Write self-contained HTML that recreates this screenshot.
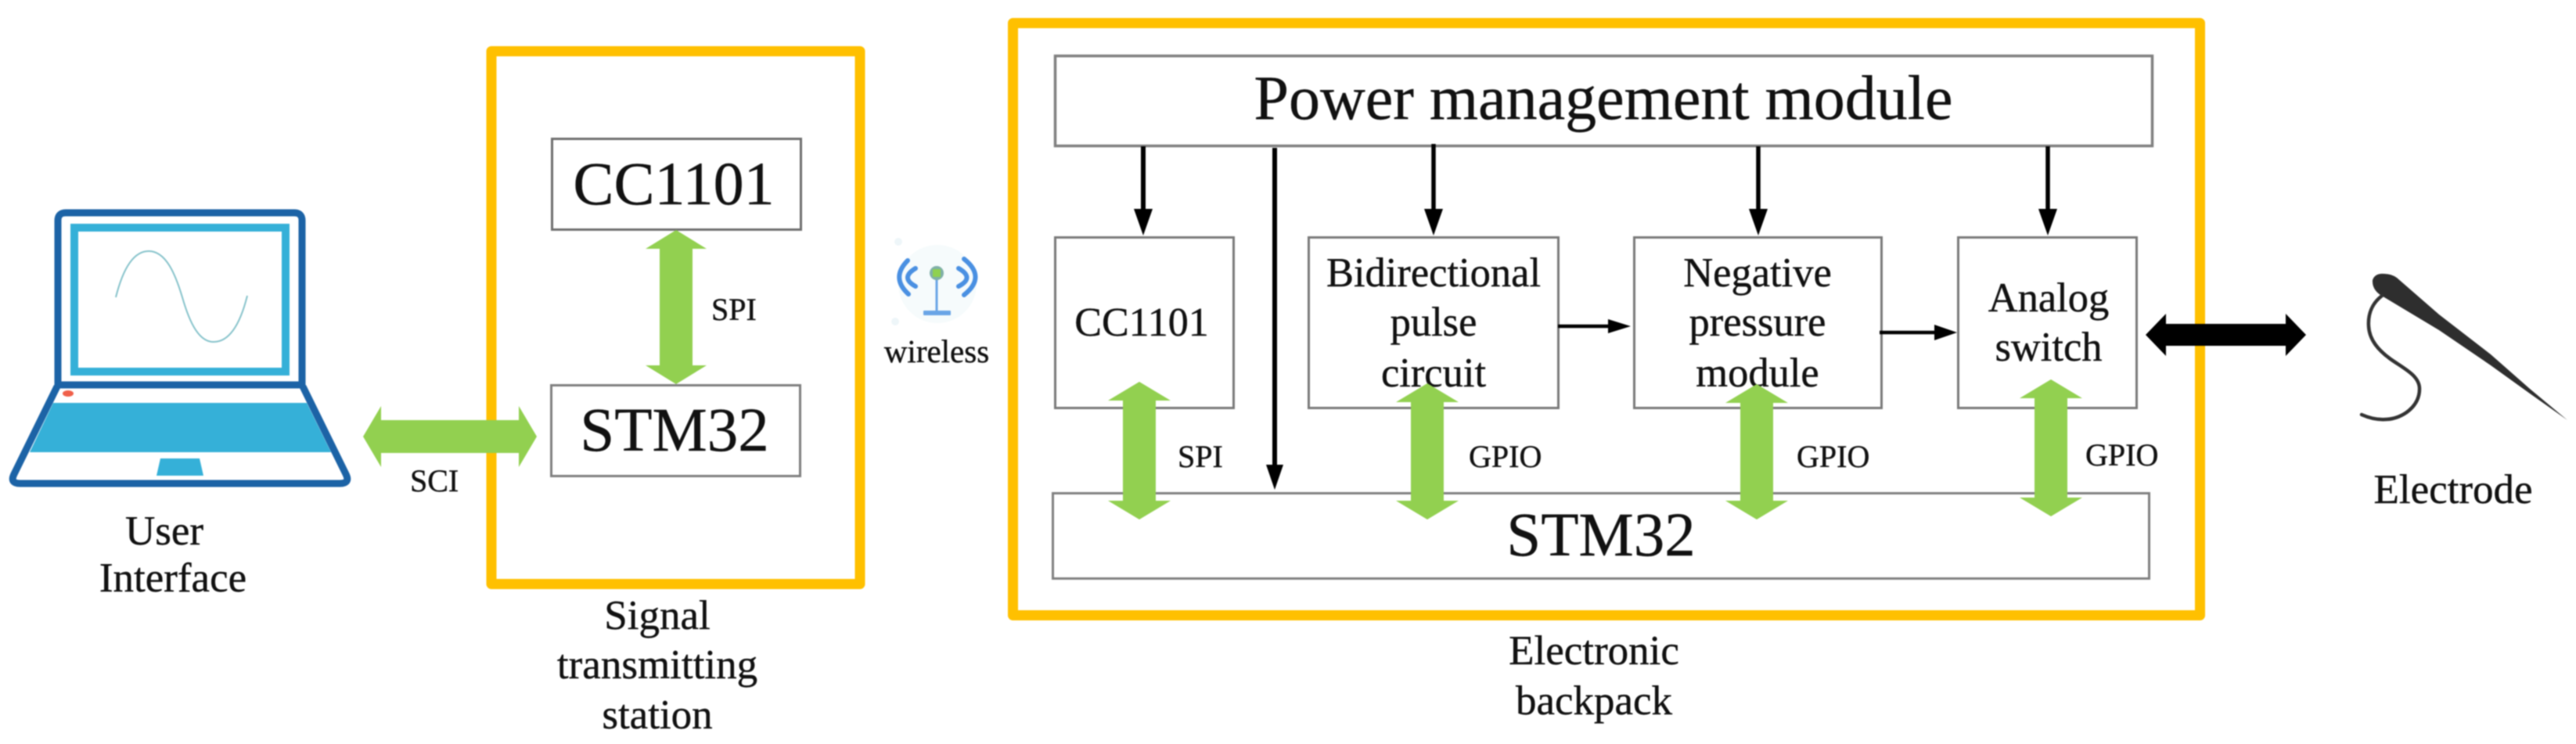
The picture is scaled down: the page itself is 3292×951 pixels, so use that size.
<!DOCTYPE html>
<html>
<head>
<meta charset="utf-8">
<style>
html,body{margin:0;padding:0;background:#fff;}
body{width:3292px;height:951px;overflow:hidden;}
svg{display:block;filter:blur(0.7px);}
text{font-family:"Liberation Serif",serif;fill:#111;stroke:#111;stroke-width:0.4px;}
</style>
</head>
<body>
<svg xmlns="http://www.w3.org/2000/svg" width="3292" height="951" viewBox="0 0 3292 951">
<rect width="3292" height="951" fill="#fff"/>

<!-- Laptop -->
<g>
  <rect x="95" y="291" width="270" height="184" fill="#fff" stroke="#35b0d8" stroke-width="10"/>
  <path d="M148 380C158 340 172 321 190 321C212 321 224 350 233 380C243 415 255 437 273 437C295 437 308 410 316 378" fill="none" stroke="#85c2ca" stroke-width="2"/>
  <polygon points="68,515 392,515 423,578 38,578" fill="#35b0d8"/>
  <polygon points="205,586 255,586 260,608 200,608" fill="#35b0d8"/>
  <ellipse cx="87" cy="503" rx="7" ry="4" fill="#f0604a"/>
  <path d="M74 492V282Q74 272 84 272H376Q386 272 386 282V492Z" fill="none" stroke="#1c63a6" stroke-width="9" stroke-linejoin="round"/>
  <path d="M73 494L18 606Q12 618 26 618H434Q448 618 442 606L387 494" fill="none" stroke="#1c63a6" stroke-width="9" stroke-linejoin="round"/>
</g>
<text x="210" y="696" font-size="53" text-anchor="middle">User</text>
<text x="221" y="756" font-size="53" text-anchor="middle">Interface</text>

<!-- Signal transmitting station -->
<rect x="628" y="65.5" width="471" height="681" fill="none" stroke="#ffc000" stroke-width="13" stroke-linejoin="round"/>
<rect x="705.5" y="177.5" width="318" height="116" fill="#fff" stroke="#6f6f6f" stroke-width="3"/>
<rect x="704.5" y="492.5" width="318" height="116" fill="#fff" stroke="#7f7f7f" stroke-width="3"/>
<text x="861" y="261" font-size="78" text-anchor="middle">CC1101</text>
<text x="862" y="576" font-size="79" text-anchor="middle">STM32</text>
<path d="M864 294l39 24h-18V467h18l-39 24l-39-24h18V318h-18z" fill="#92d050"/>
<path d="M464 558l23-39v18H663v-18l23 39l-23 39v-18H487v18z" fill="#92d050"/>
<text x="909" y="409" font-size="40">SPI</text>
<text x="524" y="628" font-size="40">SCI</text>
<text x="840" y="804" font-size="53" text-anchor="middle">Signal</text>
<text x="840" y="867" font-size="53" text-anchor="middle">transmitting</text>
<text x="840" y="931" font-size="53" text-anchor="middle">station</text>

<!-- Wireless icon -->
<g>
  <circle cx="1198" cy="363" r="50" fill="#f6fbfc"/>
  <circle cx="1148" cy="309" r="5" fill="#eef6f9"/>
  <circle cx="1144" cy="411" r="5" fill="#eef6f9"/>
  <g fill="none" stroke="#4a90e2" stroke-linecap="round">
    <path d="M1160 333Q1138 355 1161 376" stroke-width="6"/>
    <path d="M1170 343Q1150 355 1170 366" stroke-width="6"/>
    <path d="M1232 331Q1261 354 1232 377" stroke-width="6"/>
    <path d="M1225 343Q1246 355 1225 366" stroke-width="6"/>
  </g>
  <line x1="1197" y1="350" x2="1197" y2="400" stroke="#6aa5e6" stroke-width="3"/>
  <rect x="1180" y="397" width="35" height="6" rx="1" fill="#6aa5e6"/>
  <circle cx="1197" cy="349" r="9" fill="#7fb0a8"/>
  <rect x="1192" y="344" width="10" height="10" fill="#8fd14f"/>
</g>
<text x="1197" y="463" font-size="41" text-anchor="middle">wireless</text>

<!-- Electronic backpack -->
<rect x="1294.5" y="29.5" width="1517" height="757" fill="none" stroke="#ffc000" stroke-width="13" stroke-linejoin="round"/>
<rect x="1348.5" y="71.5" width="1402" height="115" fill="#fff" stroke="#808080" stroke-width="3.5"/>
<text x="2049" y="152" font-size="80" text-anchor="middle">Power management module</text>

<rect x="1348.5" y="303.5" width="228" height="218" fill="#fff" stroke="#7a7a7a" stroke-width="3"/>
<rect x="1672.5" y="303.5" width="319" height="218" fill="#fff" stroke="#7a7a7a" stroke-width="3"/>
<rect x="2088.5" y="303.5" width="316" height="218" fill="#fff" stroke="#7a7a7a" stroke-width="3"/>
<rect x="2502.5" y="303.5" width="228" height="218" fill="#fff" stroke="#7a7a7a" stroke-width="3"/>
<rect x="1345.5" y="630.5" width="1401" height="109" fill="#fff" stroke="#808080" stroke-width="3"/>

<text x="1459" y="429" font-size="52" text-anchor="middle">CC1101</text>
<text x="1832" y="366" font-size="52.5" text-anchor="middle">Bidirectional</text>
<text x="1832" y="429" font-size="52.5" text-anchor="middle">pulse</text>
<text x="1832" y="494" font-size="52.5" text-anchor="middle">circuit</text>
<text x="2246" y="366" font-size="52.5" text-anchor="middle">Negative</text>
<text x="2246" y="429" font-size="52.5" text-anchor="middle">pressure</text>
<text x="2246" y="494" font-size="52.5" text-anchor="middle">module</text>
<text x="2618" y="398" font-size="52.5" text-anchor="middle">Analog</text>
<text x="2618" y="461" font-size="52.5" text-anchor="middle">switch</text>
<text x="2046" y="710" font-size="79" text-anchor="middle">STM32</text>

<!-- Power arrows -->
<g stroke="#000" fill="none">
  <line x1="1461" y1="187" x2="1461" y2="270" stroke-width="6"/>
  <line x1="1629" y1="189" x2="1629" y2="597" stroke-width="6"/>
  <line x1="1832" y1="184" x2="1832" y2="270" stroke-width="5.5"/>
  <line x1="2247" y1="187" x2="2247" y2="270" stroke-width="5.5"/>
  <line x1="2617" y1="187" x2="2617" y2="270" stroke-width="5.5"/>
  <line x1="1991" y1="417" x2="2058" y2="417" stroke-width="4.5"/>
  <line x1="2402" y1="425" x2="2475" y2="425" stroke-width="4.5"/>
</g>
<g fill="#000">
  <polygon points="1449,267 1473,267 1461,301"/>
  <polygon points="1618,594 1640,594 1629,626"/>
  <polygon points="1820,267 1844,267 1832,301"/>
  <polygon points="2235,267 2259,267 2247,301"/>
  <polygon points="2605,267 2629,267 2617,301"/>
  <polygon points="2055,408 2084,417 2055,426"/>
  <polygon points="2472,415 2501,425 2472,435"/>
</g>

<!-- Green arrows -->
<g fill="#92d050">
  <path d="M1456 488l40 24h-19V640h19l-40 24l-40-24h19V512h-19z"/>
  <path d="M1824 490l40 24h-19V640h19l-40 24l-40-24h19V514h-19z"/>
  <path d="M2245 491l40 24h-19V640h19l-40 24l-40-24h19V515h-19z"/>
  <path d="M2621 485l40 24h-19V636h19l-40 24l-40-24h19V509h-19z"/>
</g>
<text x="1505" y="597" font-size="40">SPI</text>
<text x="1877" y="597" font-size="40">GPIO</text>
<text x="2296" y="597" font-size="40">GPIO</text>
<text x="2665" y="595" font-size="40">GPIO</text>

<!-- Black double arrow -->
<path d="M2742 428l26-27v13H2921v-13l26 27l-26 27v-13H2768v13z" fill="#000"/>

<text x="2037" y="849" font-size="53" text-anchor="middle">Electronic</text>
<text x="2037" y="913" font-size="53" text-anchor="middle">backpack</text>

<!-- Electrode -->
<path d="M3063 355L3117 402L3183 453L3233 497L3281 537L3233 503L3183 467L3117 422L3047 380Q3031 372 3032 358Q3035 349 3047 350Q3056 350 3063 355Z" fill="#2e2e2e"/>
<path d="M3044 378C3031 388 3026 402 3027 417C3028 435 3040 448 3055 459C3072 471 3092 480 3092 497C3092 520 3070 535 3050 536C3038 537 3027 534 3018 530" fill="none" stroke="#333" stroke-width="4.5" stroke-linecap="round"/>
<text x="3135" y="643" font-size="53" text-anchor="middle">Electrode</text>
</svg>
</body>
</html>
